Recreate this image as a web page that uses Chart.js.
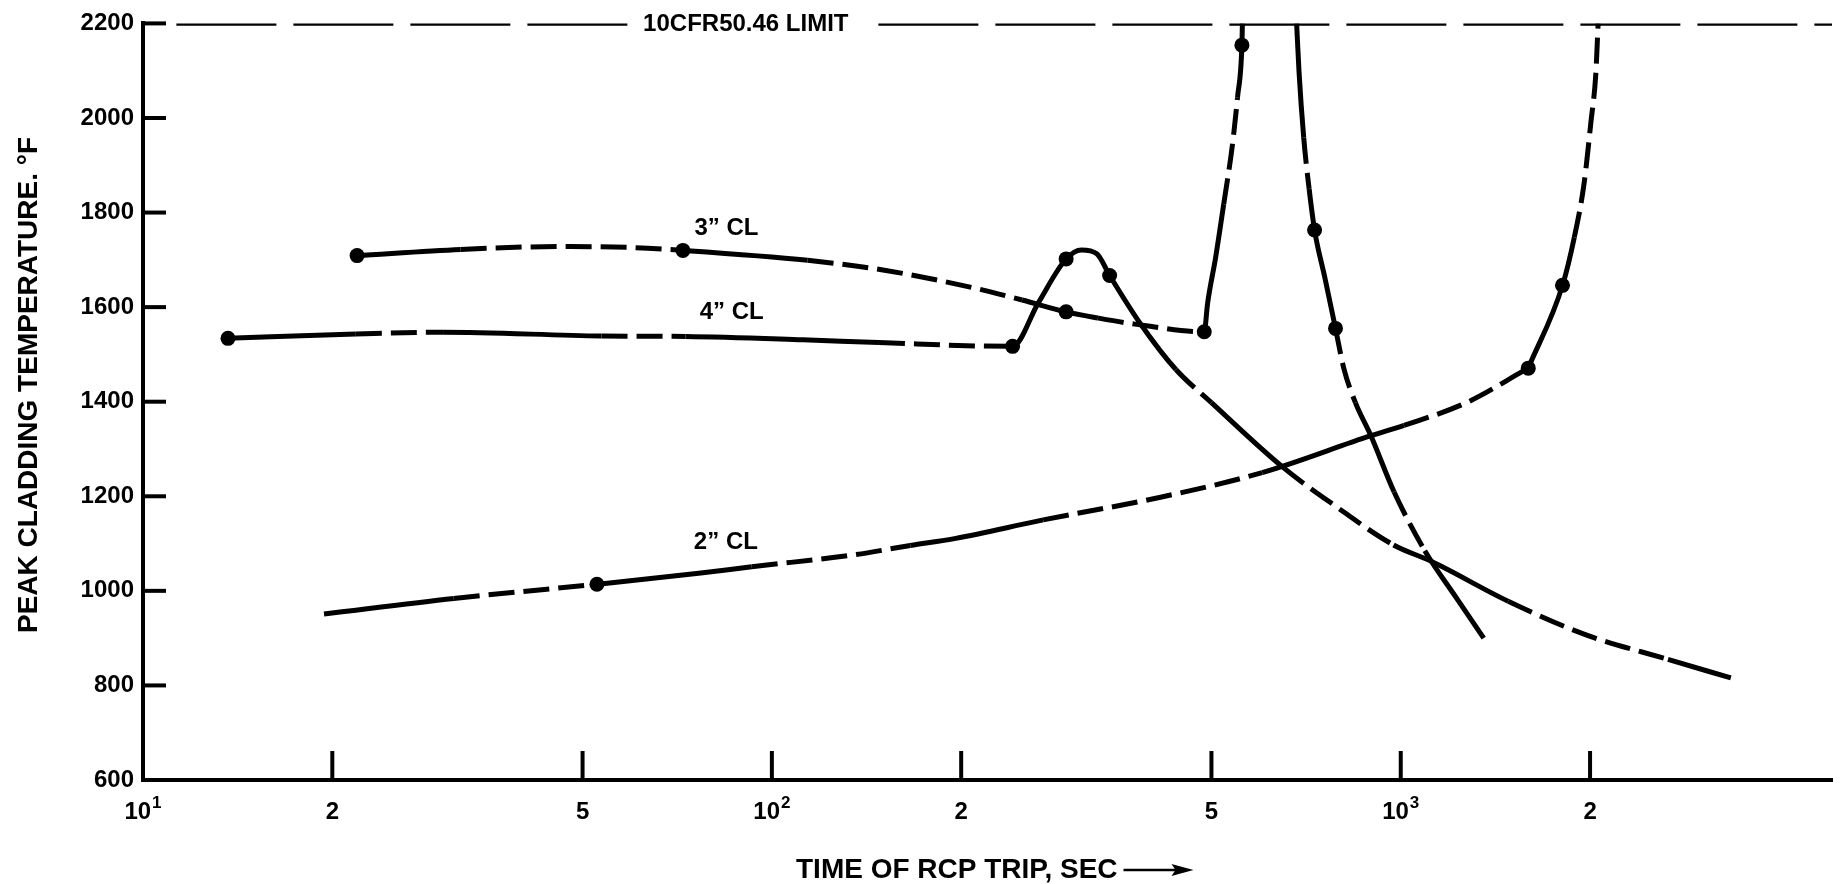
<!DOCTYPE html>
<html>
<head>
<meta charset="utf-8">
<script src="https://cdn.jsdelivr.net/npm/chart.js@4.4.0/dist/chart.umd.min.js"></script>
<style>
  html, body { margin: 0; padding: 0; background: #fff; }
  #wrap { width: 1844px; height: 884px; }
</style>
</head>
<body>
<div id="wrap"><canvas id="pctChart" width="1844" height="884"></canvas></div>
<script>
// axis ticks
const yTicks = [600, 800, 1000, 1200, 1400, 1600, 1800, 2000, 2200];
const xTickValues = [10, 20, 50, 100, 200, 500, 1000, 2000];
const xTickBase = ['10', '2', '5', '10', '2', '5', '10', '2'];
const xTickExp = ['1', '', '', '2', '', '', '3', ''];
const xMin = 10, xMax = 4850;

// 10CFR50.46 limit
const limitTemp = 2200;
const limitTime = [11.3, 4850];
const limitLabel = '10CFR50.46 LIMIT';
const limitLabelTime = 90.9;

// 3" CL up to the limit (time s, PCT F, 1 = dashed segment to next point)
const cl3Time = [21.9, 32, 45.5, 60, 72.2, 114, 151, 212, 250, 293.7, 330, 378, 487, 493, 508, 523, 540, 550, 559, 560];
const cl3Temp = [1709, 1722, 1728, 1726, 1720, 1699, 1678, 1639, 1615, 1590, 1577, 1564, 1548, 1608, 1707, 1818, 1944, 2043, 2154, 2200];
const cl3Dashed = [0,1,1,1,0,1,1,1,0,0,1,1,0,0,0,1,1,0,0];

// 3" CL back down from the limit
const cl3bTime = [683, 689, 701, 715, 729.4, 758, 787.5, 812, 847, 896.5, 976, 1092, 1232, 1355];
const cl3bTemp = [2200, 2098, 1958, 1850, 1763, 1660, 1555, 1470, 1398, 1328, 1209, 1085, 981, 900];
const cl3bDashed = [0,0,1,0,0,0,1,1,0,0,1,0,0];

// 4" CL
const cl4Time = [13.65, 21.8, 30, 53.6, 72.9, 112, 148, 241.4, 265, 293.7, 310.6, 328.6, 344.4, 385, 439, 500, 650, 784, 974, 1120, 1482, 1961, 2660, 3349];
const cl4Temp = [1534, 1543, 1547, 1539, 1538, 1531, 1525, 1517, 1608, 1702, 1721, 1713, 1667, 1566, 1468, 1398, 1261, 1181, 1097, 1062, 978, 908, 855, 816];
const cl4Dashed = [0,1,0,1,0,0,1,0,0,0,0,0,0,0,1,0,1,1,0,0,1,1,0];

// 2" CL, slow rise up to the knee
const cl2Time = [19.4, 31.2, 52.7, 76.5, 92.9, 135, 166, 196, 270, 415, 602, 896.5, 1012, 1272, 1595];
const cl2Temp = [951, 984, 1014, 1037, 1051, 1076, 1096, 1111, 1150, 1198, 1250, 1328, 1350, 1398, 1471];
const cl2Dashed = [0,1,0,0,1,1,0,0,1,1,0,0,1,1];

// 2" CL, from the knee up to the limit
const cl2bTime = [1595, 1808, 1888, 1956, 2007, 2042, 2060];
const cl2bTemp = [1471, 1646, 1748, 1860, 1993, 2091, 2200];
const cl2bDashed = [0,0,1,1,1,1];

// calculated points (dots)
const markerTime = [21.9, 72.2, 293.7, 487, 559, 13.65, 241.4, 293.7, 344.4, 729.4, 787.5, 52.7, 1595, 1808];
const markerTemp = [1709, 1720, 1590, 1548, 2154, 1534, 1517, 1702, 1667, 1763, 1555, 1014, 1471, 1646];

// curve labels
const curveLabels = ['3\u201D CL', '4\u201D CL', '2\u201D CL'];
const curveLabelTime = [84.7, 86.3, 84.5];
const curveLabelTemp = [1767, 1589, 1102];

const FONT = '"Liberation Sans", Arial, Helvetica, sans-serif';
const DASH = [26, 9];

function pts(xs, ys) {
  return xs.map((x, i) => ({x: x, y: ys[i]}));
}

function curve(xs, ys, dashed) {
  return {
    data: pts(xs, ys),
    borderColor: '#000',
    borderWidth: 5,
    pointRadius: 0,
    fill: false,
    cubicInterpolationMode: 'monotone',
    segment: {
      borderDash: ctx => dashed[ctx.p0DataIndex] ? DASH : undefined
    }
  };
}

const paperPlugin = {
  id: 'paper',
  afterDraw(chart) {
    const {ctx, chartArea, scales} = chart;
    const x = scales.x, y = scales.y;
    ctx.save();
    ctx.strokeStyle = '#000';
    ctx.fillStyle = '#000';
    ctx.lineWidth = 4;

    // ticks point into the plot
    yTicks.forEach(v => {
      const py = y.getPixelForValue(v);
      ctx.beginPath();
      ctx.moveTo(chartArea.left, py);
      ctx.lineTo(chartArea.left + 23, py);
      ctx.stroke();
    });
    xTickValues.slice(1).forEach(v => {
      const px = x.getPixelForValue(v);
      ctx.beginPath();
      ctx.moveTo(px, chartArea.bottom);
      ctx.lineTo(px, chartArea.bottom - 29);
      ctx.stroke();
    });

    // x tick labels with superscript exponents
    ctx.textBaseline = 'middle';
    ctx.textAlign = 'left';
    xTickValues.forEach((v, i) => {
      const px = x.getPixelForValue(v);
      ctx.font = 'bold 24px ' + FONT;
      const wb = ctx.measureText(xTickBase[i]).width;
      ctx.font = 'bold 17px ' + FONT;
      const we = xTickExp[i] ? ctx.measureText(xTickExp[i]).width + 1 : 0;
      const left = px - (wb + we) / 2;
      ctx.font = 'bold 24px ' + FONT;
      ctx.fillText(xTickBase[i], left, 812);
      if (xTickExp[i]) {
        ctx.font = 'bold 17px ' + FONT;
        ctx.fillText(xTickExp[i], left + wb + 1, 803);
      }
    });

    // limit label on a white patch
    ctx.font = 'bold 24px ' + FONT;
    ctx.textAlign = 'center';
    const lx = x.getPixelForValue(limitLabelTime);
    const ly = y.getPixelForValue(limitTemp);
    const lw = ctx.measureText(limitLabel).width;
    ctx.fillStyle = '#fff';
    ctx.fillRect(lx - lw / 2 - 7, ly - 6, lw + 24, 12);
    ctx.fillStyle = '#000';
    ctx.fillText(limitLabel, lx, ly + 1);

    // curve labels
    curveLabels.forEach((t, i) => {
      ctx.fillText(t, x.getPixelForValue(curveLabelTime[i]), y.getPixelForValue(curveLabelTemp[i]));
    });

    // axis titles
    ctx.font = 'bold 28px ' + FONT;
    ctx.save();
    ctx.translate(29, 385);
    ctx.rotate(-Math.PI / 2);
    ctx.fillText('PEAK CLADDING TEMPERATURE. \u00B0F', 0, 0);
    ctx.restore();

    ctx.textAlign = 'left';
    const tx = 796, ty = 870;
    const title = 'TIME OF RCP TRIP, SEC';
    ctx.fillText(title, tx, ty);
    const ax = tx + ctx.measureText(title).width + 6;
    ctx.lineWidth = 2.5;
    ctx.beginPath();
    ctx.moveTo(ax, ty);
    ctx.lineTo(ax + 56, ty);
    ctx.stroke();
    ctx.beginPath();
    ctx.moveTo(ax + 70, ty);
    ctx.lineTo(ax + 48, ty - 6);
    ctx.lineTo(ax + 52, ty);
    ctx.lineTo(ax + 48, ty + 6);
    ctx.closePath();
    ctx.fill();
    ctx.restore();
  }
};

new Chart(document.getElementById('pctChart'), {
  type: 'line',
  data: {
    datasets: [
      {
        data: pts(limitTime, limitTime.map(() => limitTemp)),
        borderColor: '#000',
        borderWidth: 4.5,
        borderDash: [100, 17],
        pointRadius: 0,
        fill: false
      },
      curve(cl3Time, cl3Temp, cl3Dashed),
      curve(cl3bTime, cl3bTemp, cl3bDashed),
      curve(cl4Time, cl4Temp, cl4Dashed),
      curve(cl2Time, cl2Temp, cl2Dashed),
      curve(cl2bTime, cl2bTemp, cl2bDashed),
      {
        data: pts(markerTime, markerTemp),
        showLine: false,
        pointRadius: 7.5,
        pointBackgroundColor: '#000',
        pointBorderColor: '#000',
        pointBorderWidth: 0
      }
    ]
  },
  options: {
    responsive: false,
    animation: false,
    layout: { padding: { left: 0, right: 12, top: 18, bottom: 0 } },
    plugins: {
      legend: { display: false },
      tooltip: { enabled: false }
    },
    scales: {
      x: {
        type: 'logarithmic',
        min: xMin,
        max: xMax,
        grid: { display: false, drawTicks: false },
        border: { display: true, color: '#000', width: 4 },
        afterBuildTicks: s => { s.ticks = xTickValues.map(v => ({value: v})); },
        afterFit: s => { s.height = 104; },
        ticks: { display: false }
      },
      y: {
        type: 'linear',
        min: 600,
        max: 2200,
        grid: { display: false, drawTicks: false },
        border: { display: true, color: '#000', width: 4 },
        afterBuildTicks: s => { s.ticks = yTicks.map(v => ({value: v})); },
        afterFit: s => { s.width = 143; },
        ticks: {
          padding: 9,
          color: '#000',
          font: { family: FONT, size: 24, weight: 'bold' },
          callback: v => String(v)
        }
      }
    }
  },
  plugins: [paperPlugin]
});
</script>
</body>
</html>
